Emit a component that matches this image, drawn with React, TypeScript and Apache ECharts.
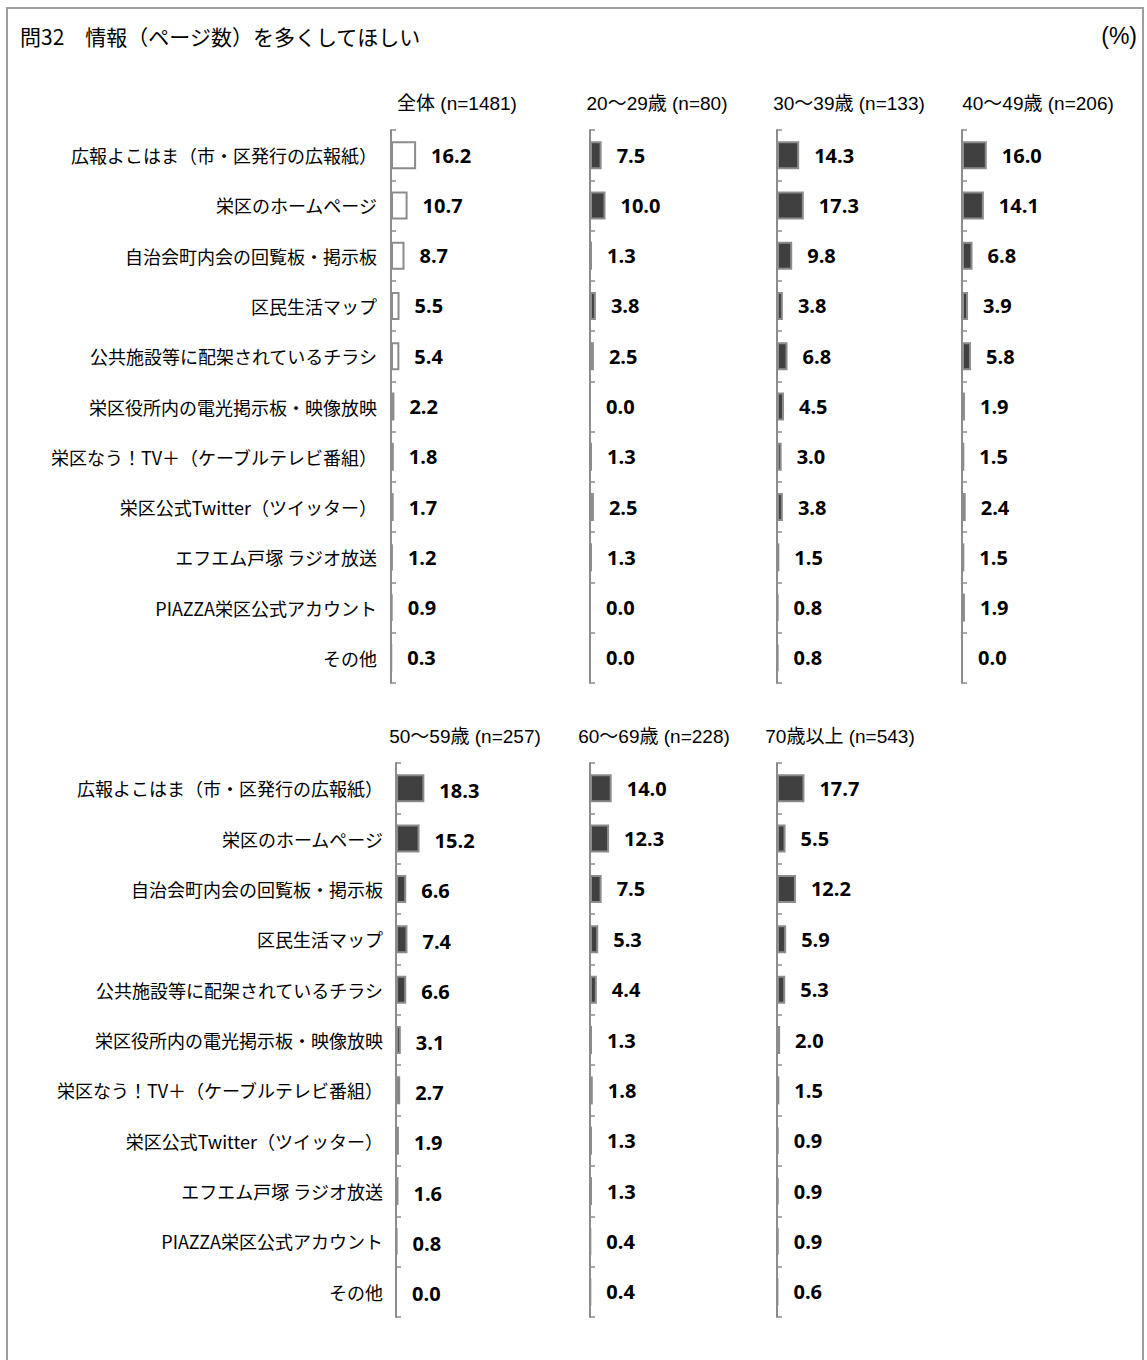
import React, { useEffect, useRef } from "react";
import * as echarts from "echarts";

const categories = [
  "広報よこはま（市・区発行の広報紙）",
  "栄区のホームページ",
  "自治会町内会の回覧板・掲示板",
  "区民生活マップ",
  "公共施設等に配架されているチラシ",
  "栄区役所内の電光掲示板・映像放映",
  "栄区なう！TV＋（ケーブルテレビ番組）",
  "栄区公式Twitter（ツイッター）",
  "エフエム戸塚 ラジオ放送",
  "PIAZZA栄区公式アカウント",
  "その他",
];

const panelTitles = [
  "全体 (n=1481)",
  "20～29歳 (n=80)",
  "30～39歳 (n=133)",
  "40～49歳 (n=206)",
  "50～59歳 (n=257)",
  "60～69歳 (n=228)",
  "70歳以上 (n=543)",
];

const totalValues = [16.2, 10.7, 8.7, 5.5, 5.4, 2.2, 1.8, 1.7, 1.2, 0.9, 0.3];
const age20Values = [7.5, 10.0, 1.3, 3.8, 2.5, 0.0, 1.3, 2.5, 1.3, 0.0, 0.0];
const age30Values = [14.3, 17.3, 9.8, 3.8, 6.8, 4.5, 3.0, 3.8, 1.5, 0.8, 0.8];
const age40Values = [16.0, 14.1, 6.8, 3.9, 5.8, 1.9, 1.5, 2.4, 1.5, 1.9, 0.0];
const age50Values = [18.3, 15.2, 6.6, 7.4, 6.6, 3.1, 2.7, 1.9, 1.6, 0.8, 0.0];
const age60Values = [14.0, 12.3, 7.5, 5.3, 4.4, 1.3, 1.8, 1.3, 1.3, 0.4, 0.4];
const age70Values = [17.7, 5.5, 12.2, 5.9, 5.3, 2.0, 1.5, 0.9, 0.9, 0.9, 0.6];

const seriesValues = [
  totalValues,
  age20Values,
  age30Values,
  age40Values,
  age50Values,
  age60Values,
  age70Values,
];

// layout (positions only)
const layout = [
  { left: 391, top: 130, height: 553, titleX: 457, titleY: 103, labels: true, margin: 14, dy: 0 },
  { left: 590, top: 130, height: 553, titleX: 657, titleY: 103, labels: false, margin: 14, dy: 0 },
  { left: 777, top: 130, height: 553, titleX: 849, titleY: 103, labels: false, margin: 14, dy: 0 },
  { left: 962, top: 130, height: 553, titleX: 1038, titleY: 103, labels: false, margin: 14, dy: 0 },
  { left: 396, top: 763, height: 554, titleX: 465, titleY: 736, labels: true, margin: 13, dy: 2 },
  { left: 590, top: 763, height: 554, titleX: 654, titleY: 736, labels: false, margin: 13, dy: 0 },
  { left: 777, top: 763, height: 554, titleX: 840, titleY: 736, labels: false, margin: 13, dy: 0 },
];

const GRID_W = 155;
const CJK = "'Noto Sans CJK JP', sans-serif";
const LATIN = "'Liberation Sans', 'Noto Sans CJK JP', sans-serif";

export default function App() {
  const ref = useRef<HTMLDivElement>(null);

  useEffect(() => {
    if (!ref.current) return;
    const chart = echarts.init(ref.current, undefined, { renderer: "svg" });

    const grids = layout.map((l) => ({
      left: l.left,
      top: l.top,
      width: GRID_W,
      height: l.height,
      containLabel: false,
    }));

    const xAxes = layout.map((_, i) => ({
      type: "value",
      gridIndex: i,
      min: 0,
      max: 100,
      show: false,
    }));

    const yAxes = layout.map((l, i) => ({
      type: "category",
      gridIndex: i,
      data: categories,
      inverse: true,
      axisLine: { show: true, lineStyle: { color: "#8c8c8c", width: 2 } },
      axisTick: {
        show: true,
        inside: true,
        length: 5,
        lineStyle: { color: "#8c8c8c", width: 1.5 },
      },
      axisLabel: {
        show: l.labels,
        margin: l.margin,
        color: "#000",
        fontSize: 18,
        fontFamily: CJK,
        interval: 0,
      },
      splitLine: { show: false },
    }));

    const series = seriesValues.map((vals, i) => ({
      type: "bar",
      xAxisIndex: i,
      yAxisIndex: i,
      data: vals,
      barWidth: 28,
      itemStyle: {
        color: i === 0 ? "#ffffff" : "#404040",
        borderColor: "#8c8c8c",
        borderWidth: 2,
      },
      label: {
        show: true,
        position: "right",
        distance: 15,
        offset: [0, layout[i].dy],
        color: "#000",
        fontFamily: "'Open Sans', sans-serif",
        fontWeight: "bold",
        fontSize: 20,
        formatter: (p: any) => Number(p.value).toFixed(1),
      },
    }));

    const graphic: any[] = [
      {
        type: "rect",
        shape: { x: 7, y: 8, width: 1136, height: 1400 },
        style: { fill: "none", stroke: "#a0a0a0", lineWidth: 2 },
        silent: true,
      },
      {
        type: "text",
        x: 20,
        y: 36,
        style: {
          text: "問32　情報（ページ数）を多くしてほしい",
          fontSize: 21,
          fontFamily: CJK,
          fill: "#000",
          verticalAlign: "middle",
        },
      },
      {
        type: "text",
        x: 1137,
        y: 36,
        style: {
          text: "(%)",
          fontSize: 23,
          fontFamily: LATIN,
          fill: "#000",
          align: "right",
          verticalAlign: "middle",
        },
      },
      ...layout.map((l, i) => ({
        type: "text",
        x: l.titleX,
        y: l.titleY,
        style: {
          text: panelTitles[i],
          fontSize: 19,
          fontFamily: LATIN,
          fill: "#000",
          align: "center",
          verticalAlign: "middle",
        },
      })),
    ];

    chart.setOption({
      animation: false,
      backgroundColor: "#ffffff",
      grid: grids,
      xAxis: xAxes,
      yAxis: yAxes,
      series,
      graphic,
    });

    return () => chart.dispose();
  }, []);

  return (
    <div
      ref={ref}
      style={{ position: "absolute", left: 0, top: 0, width: 1147, height: 1360 }}
    />
  );
}
